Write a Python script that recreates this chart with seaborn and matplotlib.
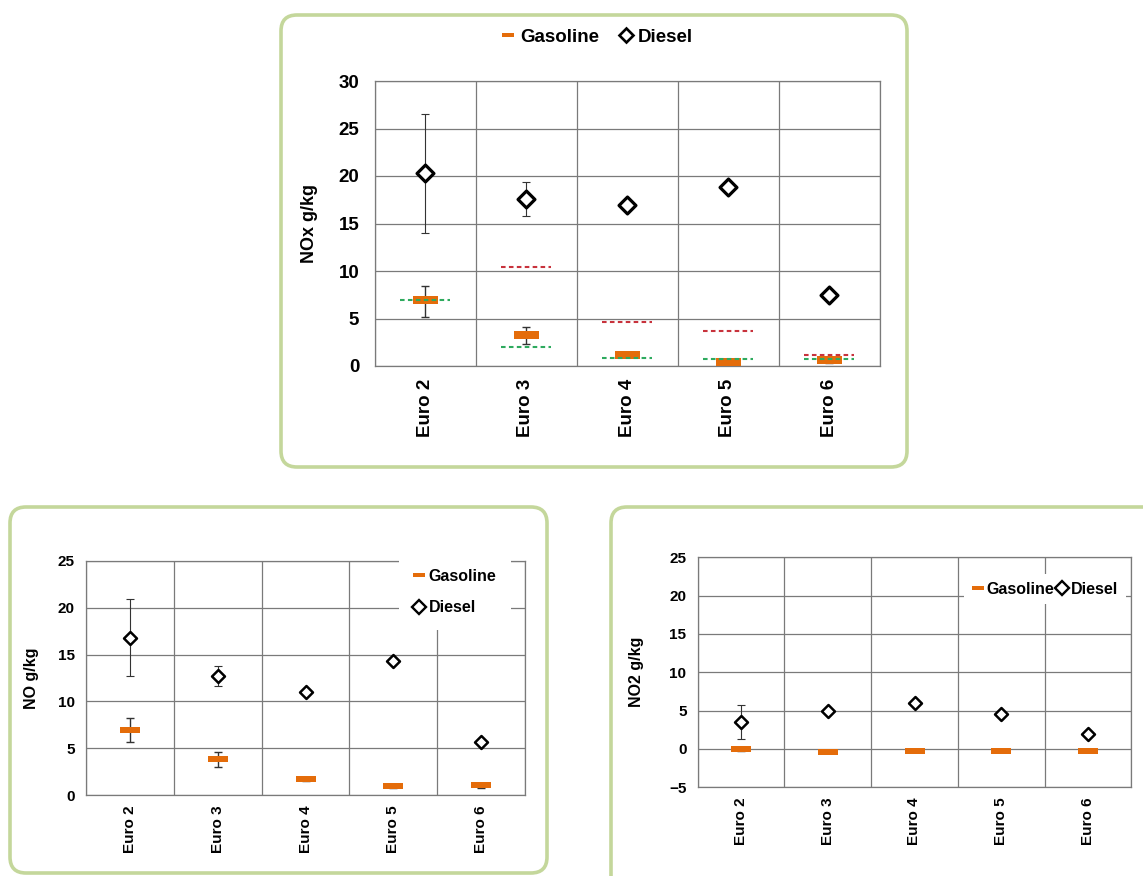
import numpy as np
import matplotlib
matplotlib.use("Agg")
import matplotlib.pyplot as plt
from matplotlib.lines import Line2D
from matplotlib.patches import FancyBboxPatch
from matplotlib.path import Path
import seaborn as sns

# ---- data -------------------------------------------------------------
stages = ["Euro 2", "Euro 3", "Euro 4", "Euro 5", "Euro 6"]

# NOx (g/kg fuel)
nox_gasoline = [6.9, 3.3, 1.2, 0.45, 0.6]
nox_gasoline_lo = [5.2, 2.3, 1.05, 0.25, 0.3]
nox_gasoline_hi = [8.4, 4.1, 1.35, 0.65, 0.9]
nox_diesel = [20.3, 17.6, 16.9, 18.8, 7.5]
nox_diesel_lo = [14.0, 15.8, None, None, None]
nox_diesel_hi = [26.5, 19.4, None, None, None]
nox_limit_diesel = [None, 10.4, 4.6, 3.65, 1.2]
nox_limit_gasoline = [6.9, 2.0, 0.8, 0.7, 0.7]

# NO (g/kg fuel)
no_gasoline = [6.95, 3.85, 1.7, 0.95, 1.05]
no_gasoline_lo = [5.7, 3.05, 1.5, 0.8, 0.8]
no_gasoline_hi = [8.2, 4.6, 1.9, 1.1, 1.3]
no_diesel = [16.8, 12.7, 11.0, 14.3, 5.65]
no_diesel_lo = [12.7, 11.6, None, None, None]
no_diesel_hi = [20.9, 13.8, None, None, None]

# NO2 (g/kg fuel)
no2_gasoline = [0.0, -0.45, -0.3, -0.2, -0.3]
no2_gasoline_lo = [-0.3, None, None, None, None]
no2_gasoline_hi = [0.3, None, None, None, None]
no2_diesel = [3.55, 5.0, 5.95, 4.55, 2.0]
no2_diesel_lo = [1.35, None, None, None, None]
no2_diesel_hi = [5.7, None, None, None, None]

# ---- style ------------------------------------------------------------
sns.set_style("white")
plt.rcParams["font.family"] = ["Liberation Sans", "DejaVu Sans"]
plt.rcParams["font.weight"] = "bold"
for key in ("text.color", "axes.labelcolor", "xtick.labelcolor", "ytick.labelcolor"):
    plt.rcParams[key] = "black"

ORANGE = "#E46C0A"
RED = "#C8323C"
GREEN = "#2EAA5E"
GRID = "#7A7A7A"
FRAME = "#C4D79B"

# flat bar used as the gasoline marker
DASH = Path([(-1, -0.32), (1, -0.32), (1, 0.32), (-1, 0.32), (-1, -0.32)],
            [Path.MOVETO, Path.LINETO, Path.LINETO, Path.LINETO, Path.CLOSEPOLY])

W, H = 1143, 876
fig = plt.figure(figsize=(W / 100, H / 100), dpi=100)


def px_axes(x0, x1, y_top, y_bot):
    return fig.add_axes([x0 / W, 1 - y_bot / H, (x1 - x0) / W, (y_bot - y_top) / H])


def add_frame(x0, x1, y_top, y_bot):
    box = FancyBboxPatch((x0 / 100, (H - y_bot) / 100), (x1 - x0) / 100, (y_bot - y_top) / 100,
                         boxstyle="round,pad=0,rounding_size=0.16",
                         transform=fig.dpi_scale_trans, fill=False,
                         edgecolor=FRAME, linewidth=2.6, zorder=0)
    fig.add_artist(box)


def draw_errors(ax, vals, lo, hi, lw):
    xs, ys, el, eh = [], [], [], []
    for i, (v, a, b) in enumerate(zip(vals, lo, hi)):
        if a is None:
            continue
        xs.append(i)
        ys.append(v)
        el.append(v - a)
        eh.append(b - v)
    if xs:
        ax.errorbar(xs, ys, yerr=[el, eh], fmt="none", ecolor="#333333",
                    elinewidth=lw, capsize=3, capthick=lw, zorder=3)


def panel(ax, gas, gas_lo, gas_hi, dsl, dsl_lo, dsl_hi, ylim, ystep, ylabel,
          fs, lfs, dsize, dlw, gsize, label_x, tick_pad, xpad):
    draw_errors(ax, gas, gas_lo, gas_hi, 1.0)
    draw_errors(ax, dsl, dsl_lo, dsl_hi, 0.8)
    sns.stripplot(x=stages, y=gas, jitter=False, marker=DASH, size=gsize,
                  color=ORANGE, linewidth=0, ax=ax, zorder=4)
    sns.stripplot(x=stages, y=dsl, jitter=False, marker="D", size=dsize,
                  color="white", edgecolor="black", linewidth=dlw, ax=ax, zorder=5)
    ax.set_xlim(-0.5, len(stages) - 0.5)
    ax.set_ylim(*ylim)
    ax.set_yticks(np.arange(ylim[0], ylim[1] + 0.1, ystep))
    ax.set_xticks(range(len(stages)))
    ax.set_xticklabels(stages, rotation=90, fontsize=fs, fontweight="bold", va="top")
    ax.set_xticks(np.arange(-0.5, len(stages)), minor=True)
    ax.tick_params(axis="x", which="major", length=0, pad=xpad)
    ax.tick_params(axis="x", which="minor", length=4, width=0.9, color=GRID, direction="out")
    ax.tick_params(axis="y", length=4, width=0.9, color=GRID, direction="out",
                   pad=tick_pad, labelsize=fs)
    for t in ax.get_yticklabels():
        t.set_fontweight("bold")
    ax.yaxis.grid(True, color=GRID, linewidth=0.9)
    ax.xaxis.grid(True, which="minor", color=GRID, linewidth=0.9)
    ax.xaxis.grid(False, which="major")
    ax.set_axisbelow(True)
    for s in ax.spines.values():
        s.set_color(GRID)
        s.set_linewidth(0.9)
    ax.set_xlabel("")
    ax.set_ylabel(ylabel, fontsize=lfs, fontweight="bold")
    ax.yaxis.set_label_coords(label_x, 0.5)


def gas_handle(ms):
    return Line2D([], [], marker=DASH, color=ORANGE, linestyle="none", markersize=ms,
                  markeredgewidth=0)


def dsl_handle(ms, lw):
    return Line2D([], [], marker="D", markerfacecolor="white", markeredgecolor="black",
                  markeredgewidth=lw, linestyle="none", markersize=ms)


# ---- frames -----------------------------------------------------------
add_frame(281, 907, 15, 467)
add_frame(10, 547, 507, 873)
add_frame(611, 1175, 507, 910)

# ---- NOx --------------------------------------------------------------
ax_nox = px_axes(374.5, 879.5, 81, 366)
panel(ax_nox, nox_gasoline, nox_gasoline_lo, nox_gasoline_hi,
      nox_diesel, nox_diesel_lo, nox_diesel_hi, (0, 30), 5, "NOx g/kg",
      fs=13.5, lfs=13, dsize=8.6, dlw=2.3, gsize=18, label_x=-0.112, tick_pad=7, xpad=9)
for i, v in enumerate(nox_limit_diesel):
    if v is not None:
        ax_nox.hlines(v, i - 0.25, i + 0.25, colors=RED, linestyles=(0, (2.2, 1.6)),
                      linewidth=1.5, zorder=6)
for i, v in enumerate(nox_limit_gasoline):
    if v is not None:
        ax_nox.hlines(v, i - 0.25, i + 0.25, colors=GREEN, linestyles=(0, (2.2, 1.6)),
                      linewidth=1.5, zorder=6)
fig.legend([gas_handle(9), dsl_handle(7.2, 1.9)], ["Gasoline", "Diesel"],
           loc="center", bbox_to_anchor=(597 / W, 1 - 37 / H), ncol=2, frameon=False,
           handlelength=0.8, handletextpad=0.25, columnspacing=1.0,
           prop={"size": 13.5, "weight": "bold"})

# ---- NO ---------------------------------------------------------------
ax_no = px_axes(86, 525, 560.7, 795.3)
panel(ax_no, no_gasoline, no_gasoline_lo, no_gasoline_hi,
      no_diesel, no_diesel_lo, no_diesel_hi, (0, 25), 5, "NO g/kg",
      fs=11, lfs=11.5, dsize=6.6, dlw=1.8, gsize=14, label_x=-0.107, tick_pad=4, xpad=7)
ax_no.legend([gas_handle(9), dsl_handle(6.8, 1.7)], ["Gasoline", "Diesel"],
             loc="center", bbox_to_anchor=(455 / W, 1 - 592 / H),
             bbox_transform=fig.transFigure, frameon=True, facecolor="white",
             edgecolor="none", framealpha=1, fancybox=False,
             handlelength=0.7, handletextpad=0.25, labelspacing=1.05, borderpad=0.9,
             prop={"size": 11.5, "weight": "bold"})

# ---- NO2 --------------------------------------------------------------
ax_no2 = px_axes(697.6, 1131.4, 557.3, 787.3)
panel(ax_no2, no2_gasoline, no2_gasoline_lo, no2_gasoline_hi,
      no2_diesel, no2_diesel_lo, no2_diesel_hi, (-5, 25), 5, "NO2 g/kg",
      fs=11, lfs=11.5, dsize=6.6, dlw=1.8, gsize=14, label_x=-0.1235, tick_pad=4, xpad=7)
ax_no2.legend([gas_handle(9), dsl_handle(6.8, 1.7)], ["Gasoline", "Diesel"],
              loc="center", bbox_to_anchor=(1045 / W, 1 - 589 / H),
              bbox_transform=fig.transFigure, ncol=2, frameon=True, facecolor="white",
              edgecolor="none", framealpha=1, fancybox=False,
              handlelength=0.7, handletextpad=0.15, columnspacing=0.2, borderpad=0.5,
              prop={"size": 11.5, "weight": "bold"})

fig.savefig("out.png", dpi=100)
